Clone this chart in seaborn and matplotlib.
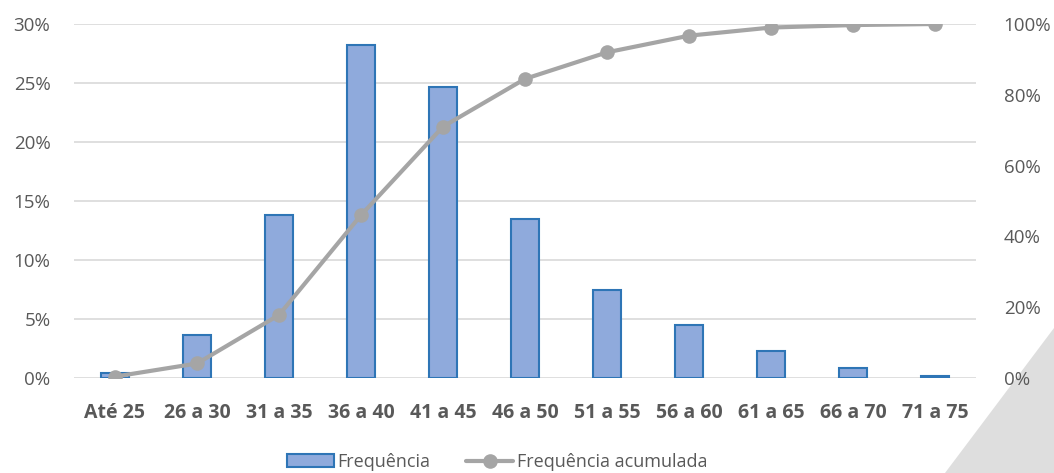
import numpy as np
import pandas as pd
import seaborn as sns
import matplotlib.pyplot as plt
from matplotlib.patches import Polygon
from matplotlib.ticker import PercentFormatter

# faixas etarias
categories = ['Até 25', '26 a 30', '31 a 35', '36 a 40', '41 a 45', '46 a 50',
              '51 a 55', '56 a 60', '61 a 65', '66 a 70', '71 a 75']
frequencia = [0.42, 3.64, 13.8, 28.2, 24.7, 13.5, 7.46, 4.5, 2.3, 0.85, 0.2]
acumulada = [0.4, 4.1, 17.8, 46.0, 71.0, 84.5, 92.0, 96.7, 99.0, 99.7, 100.0]

df = pd.DataFrame({'Faixa': categories,
                   'Frequência': np.array(frequencia) / 100,
                   'Acumulada': np.array(acumulada) / 100})

sns.set_theme(style='white')
plt.rcParams['font.family'] = ['Open Sans', 'DejaVu Sans']
text_col = '#595959'

fig = plt.figure(figsize=(10.54, 4.73), dpi=100)

# decorative grey triangle in lower right corner (behind everything)
fig.patches.append(Polygon([(945 / 1054, 0), (1, 0), (1, 1 - 328 / 473)],
                           closed=True, transform=fig.transFigure,
                           facecolor='#dedede', edgecolor='none', zorder=-5))

ax = fig.add_axes([74 / 1054, 95 / 473, 902 / 1054, 354 / 473])
ax.patch.set_alpha(0)

sns.barplot(data=df, x='Faixa', y='Frequência', ax=ax, color='#8FAADC',
            edgecolor='#2E75B6', linewidth=1.5, width=0.33, saturation=1,
            label='Frequência', zorder=2)
ax.set_ylim(0, 0.30)
ax.set_yticks(np.arange(0, 0.31, 0.05))
ax.yaxis.set_major_formatter(PercentFormatter(1.0, decimals=0))
ax.set_xlim(-0.5, len(categories) - 0.5)
ax.grid(axis='y', color='#d9d9d9', linewidth=1.2, zorder=0)
ax.set_axisbelow(True)
ax.set_xlabel('')
ax.set_ylabel('')
for s in ax.spines.values():
    s.set_visible(False)
ax.tick_params(axis='y', length=0, pad=17, labelsize=13.5, labelcolor=text_col)
ax.tick_params(axis='x', length=0, pad=18, labelsize=14, labelcolor=text_col)
for lbl in ax.get_xticklabels():
    lbl.set_fontweight('bold')

ax2 = ax.twinx()
ax2.patch.set_alpha(0)
sns.lineplot(data=df, x='Faixa', y='Acumulada', ax=ax2, color='#A5A5A5',
             linewidth=3, marker='o', markersize=10.5, markeredgewidth=0,
             label='Frequência acumulada', zorder=3)
ax2.set_ylim(0, 1.0)
ax2.set_yticks(np.arange(0, 1.01, 0.2))
ax2.yaxis.set_major_formatter(PercentFormatter(1.0, decimals=0))
ax2.set_ylabel('')
ax2.grid(False)
for s in ax2.spines.values():
    s.set_visible(False)
ax2.tick_params(axis='y', length=0, pad=20, labelsize=13.5, labelcolor=text_col)

h1, l1 = ax.get_legend_handles_labels()
h2, l2 = ax2.get_legend_handles_labels()
if ax.get_legend():
    ax.get_legend().remove()
if ax2.get_legend():
    ax2.get_legend().remove()
leg = fig.legend(h1 + h2, l1 + l2, loc='center', bbox_to_anchor=(497 / 1054, 1 - 462 / 473),
                 ncol=2, frameon=False, fontsize=13, handlelength=2.6,
                 handleheight=0.75, columnspacing=2.0, handletextpad=0.2)
for t in leg.get_texts():
    t.set_color(text_col)

fig.savefig('out.png', dpi=100)
